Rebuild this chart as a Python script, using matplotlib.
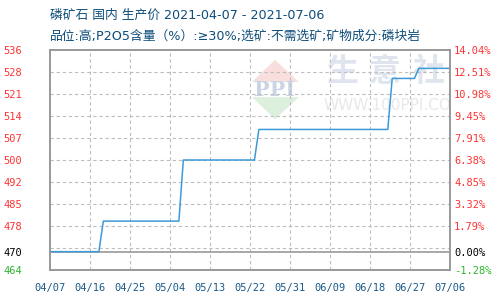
from datetime import datetime

import matplotlib
matplotlib.use('Agg')
import matplotlib.dates as mdates
import numpy as np
import pandas as pd
from matplotlib import pyplot as plt
from matplotlib.patches import Polygon

plt.rcParams['font.family'] = ['DejaVu Sans', 'Noto Sans CJK SC']

# price data, points where the price line changes direction
dates = ['2021-04-07', '2021-04-18', '2021-04-19', '2021-05-06', '2021-05-07',
         '2021-05-23', '2021-05-24', '2021-06-22', '2021-06-23', '2021-06-28',
         '2021-06-29', '2021-07-06']
prices = [470, 470, 480, 480, 500, 500, 510, 510, 526.7, 526.7, 530, 530]

title1 = '磷矿石 国内 生产价 2021-04-07 - 2021-07-06'
title2 = '品位:高;P2O5含量（%）:≥30%;选矿:不需选矿;矿物成分:磷块岩'

base_price = 470
y_min, y_max = 464, 536
x_start, x_end = '2021-04-07', '2021-07-06'

TITLE_COLOR = '#0e4d7a'
LINE_COLOR = '#3d9ad8'
GRID_COLOR = '#bdbdbd'
SPINE_COLOR = '#999999'
MONO = 'DejaVu Sans Mono'


def labelColor(v):
    if abs(v - base_price) < 1e-6:
        return 'black'
    if v < base_price:
        return '#2db52d'
    return '#ff3333'


def addWatermark(ax):
    tr = ax.transAxes
    ax.add_patch(Polygon([[0.5625, 0.955], [0.505, 0.855], [0.6225, 0.855]],
                         closed=True, transform=tr, color='#f9dede', zorder=0, lw=0))
    ax.add_patch(Polygon([[0.505, 0.786], [0.6225, 0.786], [0.5625, 0.686]],
                         closed=True, transform=tr, color='#ddf0de', zorder=0, lw=0))
    ax.text(0.5625, 0.82, 'PPI', transform=tr, ha='center', va='center',
            fontsize=15, fontweight='bold', family='DejaVu Serif',
            color='#cbd4e6', zorder=0)
    for i, ch in enumerate('生意社'):
        ax.text(0.73 + i * 0.108, 0.9, ch, transform=tr, ha='center', va='center',
                fontsize=23, fontweight='bold', family='Noto Sans CJK SC',
                color='#dfe4ef', zorder=0, clip_on=True)
    ax.text(0.685, 0.747, 'WWW.100PPI.COM', transform=tr, ha='left', va='center',
            fontsize=11, family='DejaVu Sans', color='#e8e8e8', zorder=0,
            clip_on=True)


fig = plt.figure(figsize=(5, 3), dpi=100)
ax = fig.add_axes([0.1, 0.1, 0.8, 0.7333])

x = pd.to_datetime(dates)
ax.plot(x, prices, color=LINE_COLOR, lw=1.1, zorder=3)

ax.set_xlim(pd.Timestamp(x_start), pd.Timestamp(x_end))
ax.set_ylim(y_min, y_max)

# grid: 10 equal steps over the y range, 9 day steps along x
step = (y_max - y_min) / 10
grid_y = [y_min + step * k for k in range(1, 10)]
for gy in grid_y:
    ax.axhline(gy, color=GRID_COLOR, lw=0.8, ls=(0, (3, 2.5)), zorder=1, snap=True)
ax.axhline(base_price, color=SPINE_COLOR, lw=1.2, zorder=2)

xticks = pd.date_range(x_start, x_end, freq='9D')
for gx in xticks[1:-1]:
    ax.axvline(gx, color=GRID_COLOR, lw=0.8, ls=(0, (3, 2.5)), zorder=1, snap=True)

ax.set_xticks(xticks)
ax.xaxis.set_major_formatter(mdates.DateFormatter('%m/%d'))
ax.tick_params(axis='x', length=0, pad=9, labelsize=7.5, colors='#1a5a8a')
for lab in ax.get_xticklabels():
    lab.set_family(MONO)

yticks = [y_min, base_price] + grid_y[1:] + [y_max]
ax.set_yticks(yticks)
ax.set_yticklabels(['%d' % int(v) for v in yticks])
ax.tick_params(axis='y', length=0, pad=20, labelsize=7.5)
for lab, v in zip(ax.get_yticklabels(), yticks):
    lab.set_color(labelColor(v))
    lab.set_family(MONO)

ax2 = ax.twinx()
ax2.set_ylim(y_min, y_max)
ax2.set_yticks(yticks)
ax2.set_yticklabels(['%.2f%%' % ((v - base_price) / base_price * 100) for v in yticks])
ax2.tick_params(axis='y', length=0, pad=3, labelsize=7.5)
for lab, v in zip(ax2.get_yticklabels(), yticks):
    lab.set_color(labelColor(v))
    lab.set_family(MONO)

for a in (ax, ax2):
    for s in a.spines.values():
        s.set_color(SPINE_COLOR)
        s.set_linewidth(1.2)

addWatermark(ax)

fig.text(0.1, 0.95, title1, ha='left', va='center', fontsize=9.2, color=TITLE_COLOR)
fig.text(0.1, 0.878, title2, ha='left', va='center', fontsize=9.2, color=TITLE_COLOR)

fig.savefig('out.png', dpi=100)
